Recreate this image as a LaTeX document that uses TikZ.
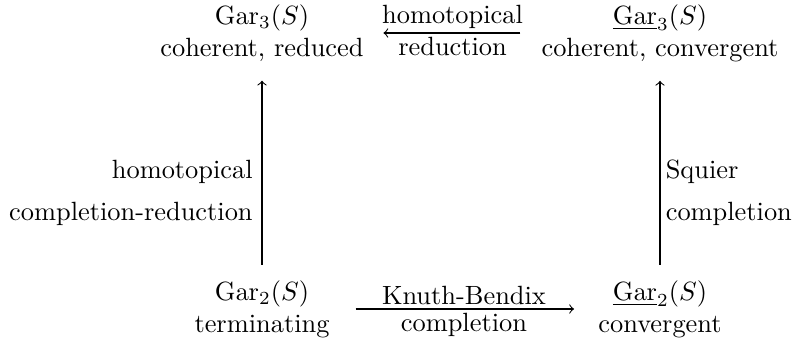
\documentclass[tikz,border=0pt]{standalone}
\usepackage{tikz}
\usetikzlibrary{calc}

\begin{document}
\begin{tikzpicture}[x=0.379pt,y=0.379pt,>=to,
    cell/.style={align=center},
    lab/.style={inner sep=1.5pt},
    harr/.style={->,shorten <=4.5pt,shorten >=4pt},
    varr/.style={->,shorten <=2.5pt,shorten >=3.8pt}]
  \def\colsep{398};
  \def\rowsep{276};
  \useasboundingbox (-262,-36) rectangle (534,309); % 余白込みの範囲

  \node(g2) at (0,0) [cell]{$\mathrm{Gar}_2(S)$\\terminating}; % 左下
  \node(cg2) at (\colsep,0) [cell]{$\underline{\mathrm{Gar}}_2(S)$\\convergent}; % 右下
  \node(g3) at (0,\rowsep) [cell]{$\mathrm{Gar}_3(S)$\\coherent, reduced}; % 左上
  \node(cg3) at (\colsep,\rowsep) [cell]{$\underline{\mathrm{Gar}}_3(S)$\\coherent, convergent}; % 右上

  \draw[harr,shorten <=6.4pt,shorten >=5.7pt] (g2) -- (cg2) node[midway,above,lab]{Knuth-Bendix} node[midway,below,lab]{completion};
  \draw[harr] (cg3) -- (g3) node[midway,above,lab]{homotopical} node[midway,below,lab]{reduction};
  \draw[varr] (g2) -- (g3) node[pos=0.39,left,align=right]{homotopical\\[4pt]completion-reduction};
  \draw[varr] (cg2) -- (cg3) node[pos=0.39,right,inner sep=2pt,align=left]{Squier\\[4pt]completion}; % ラベルは少し下寄り
\end{tikzpicture}
\end{document}
